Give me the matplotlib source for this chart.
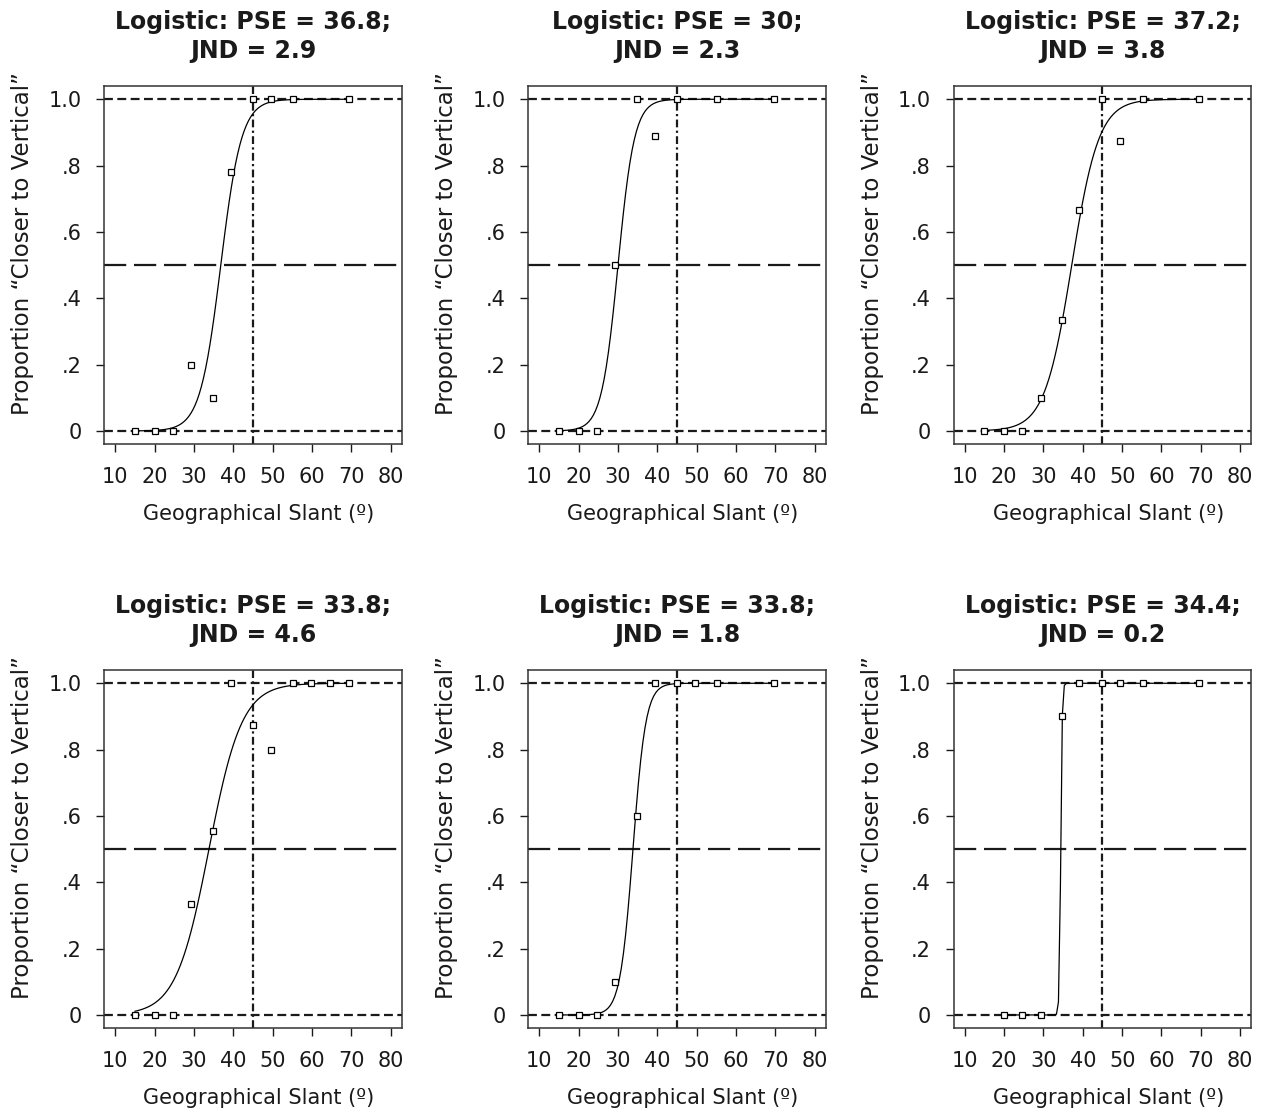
import matplotlib
matplotlib.use("Agg")
import matplotlib.pyplot as plt
import numpy as np

plt.rcParams["font.family"] = ["DejaVu Sans"]
plt.rcParams["font.size"] = 15

# --- data (slant in degrees, proportion "closer to vertical") ---
slant_1 = [15, 20, 24.7, 29.3, 34.8, 39.3, 45, 49.5, 55.1, 69.4]
prop_1 = [0, 0, 0, 0.2, 0.1, 0.78, 1, 1, 1, 1]
slant_2 = [15, 20, 24.6, 29.3, 34.8, 39.3, 45, 55.2, 69.6]
prop_2 = [0, 0, 0, 0.5, 1, 0.89, 1, 1, 1]
slant_3 = [15, 19.9, 24.6, 29.3, 34.8, 39.1, 45, 49.5, 55.2, 69.6]
prop_3 = [0, 0, 0, 0.1, 0.333, 0.667, 1, 0.875, 1, 1]
slant_4 = [15, 20, 24.7, 29.2, 34.8, 39.3, 45, 49.5, 55.1, 59.8, 64.6, 69.4]
prop_4 = [0, 0, 0, 0.333, 0.556, 1, 0.875, 0.8, 1, 1, 1, 1]
slant_5 = [15, 20, 24.6, 29.3, 34.8, 39.3, 45, 49.6, 55.2, 69.6]
prop_5 = [0, 0, 0, 0.1, 0.6, 1, 1, 1, 1, 1]
slant_6 = [19.9, 24.6, 29.3, 34.8, 39.1, 45, 49.5, 55.2, 69.6]
prop_6 = [0, 0, 0, 0.9, 1, 1, 1, 1, 1]

pse = [36.8, 30, 37.2, 33.8, 33.8, 34.4]
jnd = [2.9, 2.3, 3.8, 4.6, 1.8, 0.2]
pse_labels = ["36.8", "30", "37.2", "33.8", "33.8", "34.4"]
jnd_labels = ["2.9", "2.3", "3.8", "4.6", "1.8", "0.2"]

slants = [slant_1, slant_2, slant_3, slant_4, slant_5, slant_6]
props = [prop_1, prop_2, prop_3, prop_4, prop_5, prop_6]

x_ticks = [10, 20, 30, 40, 50, 60, 70, 80]
y_ticks = [0, 0.2, 0.4, 0.6, 0.8, 1.0]
y_ticklabels = ["0", ".2", ".4", ".6", ".8", "1.0"]
vertical_ref = 45

W, H = 1265, 1116
fig = plt.figure(figsize=(W / 100, H / 100), dpi=100)

lefts = [104.3, 528.3, 953.7]
tops = [86, 670]
ax_w, ax_h = 297.5, 358.2
_INK = "#1a1a1a"

for i in range(6):
    r, c = divmod(i, 3)
    ax = fig.add_axes([lefts[c] / W, 1 - (tops[r] + ax_h) / H, ax_w / W, ax_h / H])
    x = np.array(slants[i])
    y = np.array(props[i])

    # reference lines
    ax.axhline(1, color=_INK, lw=1.6, dashes=(4, 2))
    ax.axhline(0, color=_INK, lw=1.6, dashes=(4, 2))
    ax.axhline(0.5, color=_INK, lw=1.6, dashes=(10, 3.5))
    ax.axvline(vertical_ref, color=_INK, lw=1.6, dashes=(3.5, 1.5, 1, 1.5))

    # fitted logistic (JND = distance from 50% to 75% point)
    s = jnd[i] / np.log(3)
    xs = np.linspace(x.min(), x.max(), 101)
    ax.plot(xs, 1 / (1 + np.exp(-(xs - pse[i]) / s)), color="black", lw=0.9)

    ax.plot(x, y, ls="none", marker="s", ms=5, mfc="white", mec="black", mew=0.9, zorder=5)

    ax.set_xlim(7.2, 82.8)
    ax.set_ylim(-0.04, 1.04)
    ax.set_xticks(x_ticks)
    ax.set_yticks(y_ticks)
    ax.set_yticklabels(y_ticklabels)
    ax.tick_params(length=6, width=1, pad=10.5, colors=_INK, labelcolor=_INK)
    for sp in ax.spines.values():
        sp.set_color("#333333")
        sp.set_linewidth(1.1)

    ax.set_xlabel("Geographical Slant (º)", labelpad=12, color=_INK)
    ax.xaxis.label.set_x(0.52)
    ax.set_ylabel("Proportion \u201cCloser to Vertical\u201d", labelpad=10, color=_INK,
                  fontsize=16.5)
    ax.yaxis.label.set_y(0.56)
    ax.set_title(f"Logistic: PSE = {pse_labels[i]};\nJND = {jnd_labels[i]}",
                 fontweight="bold", fontsize=17, pad=20, color=_INK, linespacing=1.3)

fig.savefig("out.png", dpi=100)
